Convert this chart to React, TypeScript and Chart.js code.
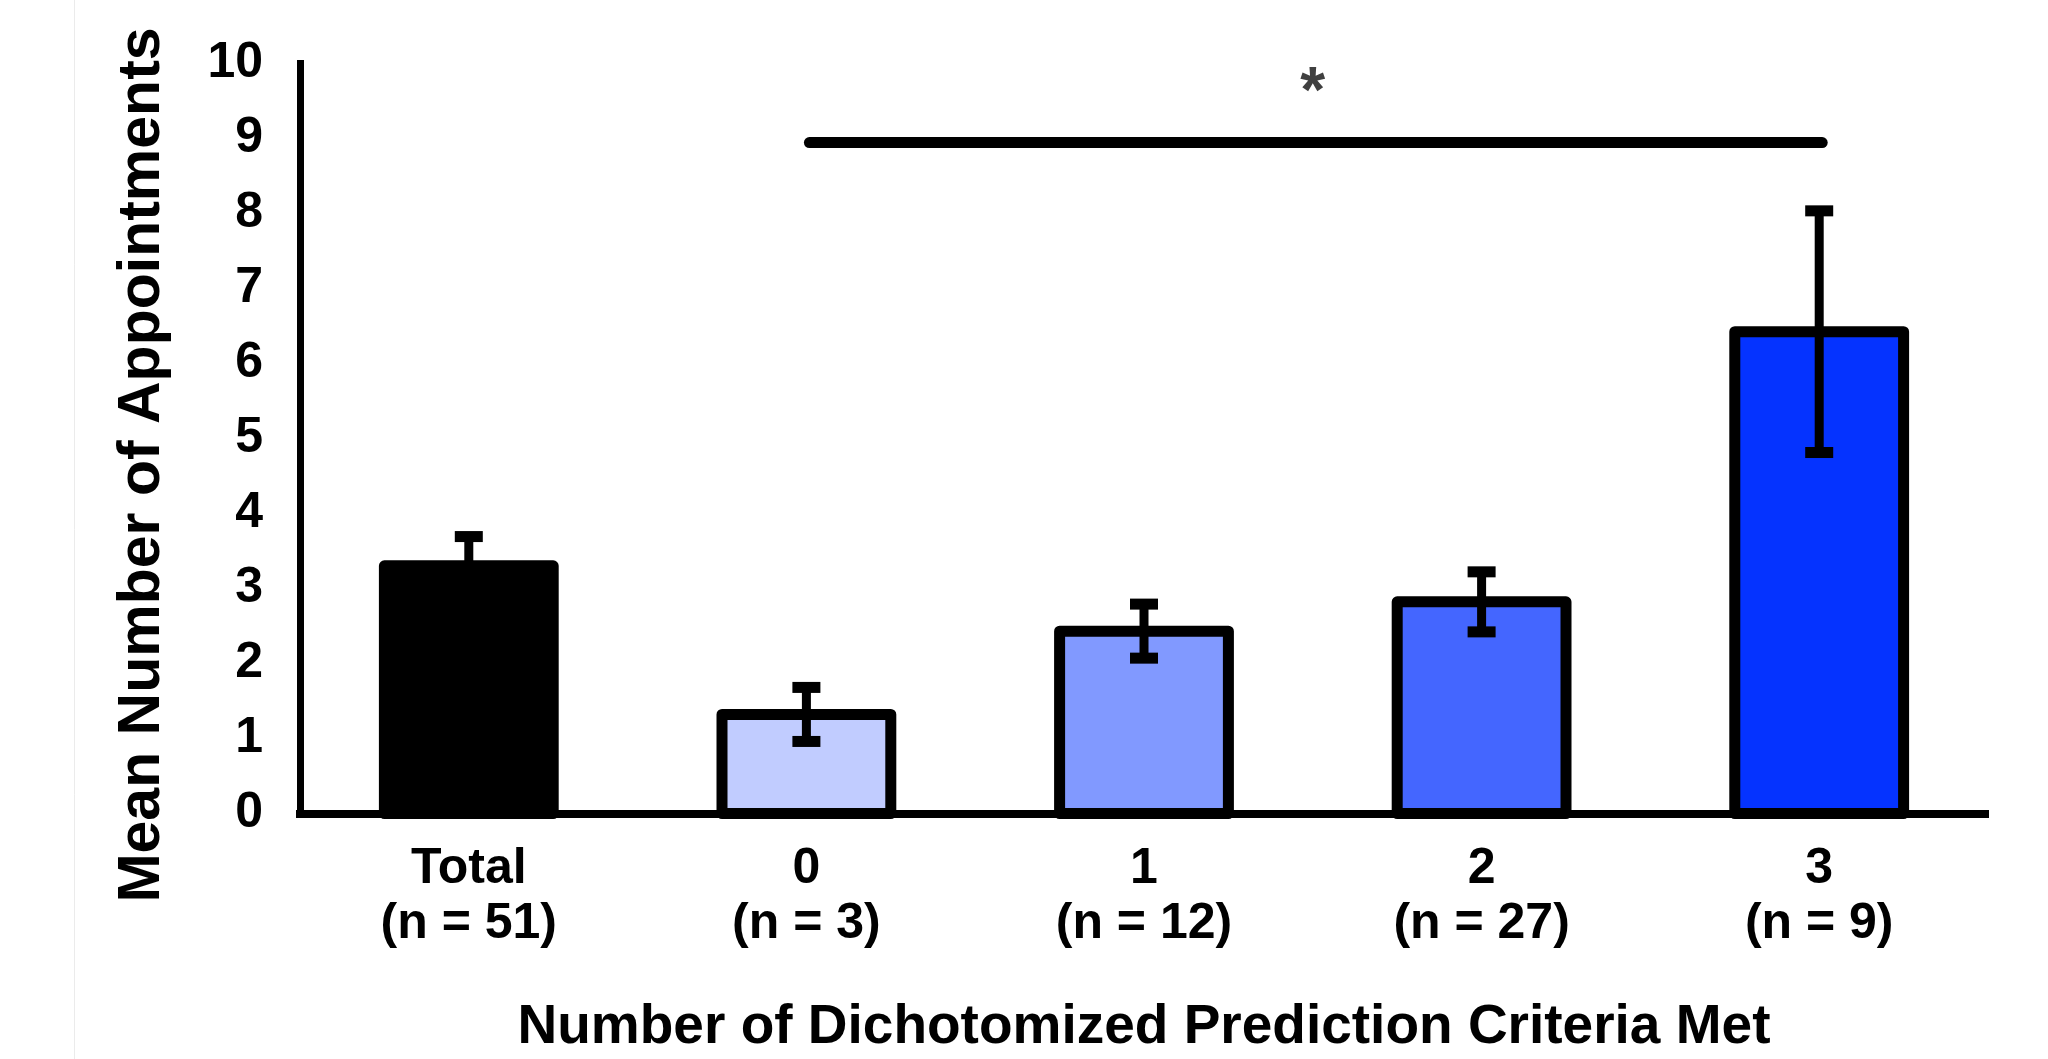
import React, { useEffect, useRef } from "react";
import { Chart, registerables } from "chart.js";

Chart.register(...registerables);

// ---- data ----
const categoryTop = ["Total", "0", "1", "2", "3"];
const categoryN = ["(n = 51)", "(n = 3)", "(n = 12)", "(n = 27)", "(n = 9)"];
const means = [3.3, 1.32, 2.43, 2.82, 6.42];
const sems = [0.39, 0.36, 0.36, 0.4, 1.61];
const barColors = ["#000000", "#C1CCFF", "#8199FF", "#4466FF", "#0533FF"];
const yMin = 0;
const yMax = 10;
const yStep = 1;
const yAxisTitle = "Mean Number of Appointments";
const xAxisTitle = "Number of Dichotomized Prediction Criteria Met";
const sigFromIndex = 1;
const sigToIndex = 4;
const sigLineValue = 8.94;
const sigLabel = "*";
const sigLabelValue = 9.78;

const FONT = "'Liberation Sans', Arial, Helvetica, sans-serif";

const decorPlugin = {
  id: "decor",
  beforeDraw(chart: any) {
    const ctx = chart.ctx;
    ctx.save();
    ctx.fillStyle = "#ffffff";
    ctx.fillRect(0, 0, chart.width, chart.height);
    ctx.strokeStyle = "#ebebeb";
    ctx.lineWidth = 1;
    ctx.beginPath();
    ctx.moveTo(74.5, 0);
    ctx.lineTo(74.5, chart.height);
    ctx.stroke();
    ctx.restore();
  },
  afterDatasetsDraw(chart: any) {
    const ctx = chart.ctx;
    const yScale = chart.scales.y;
    const meta = chart.getDatasetMeta(0);
    ctx.save();
    meta.data.forEach((bar: any) => {
      const p = bar.getProps(["x", "y", "base", "width"], true);
      ctx.lineWidth = 11;
      ctx.strokeStyle = "#000000";
      ctx.lineJoin = "round";
      ctx.strokeRect(p.x - p.width / 2, p.y, p.width, p.base - p.y);
    });
    meta.data.forEach((bar: any, i: number) => {
      const p = bar.getProps(["x"], true);
      const hi = yScale.getPixelForValue(means[i] + sems[i]);
      const lo = yScale.getPixelForValue(means[i] - sems[i]);
      ctx.fillStyle = "#000000";
      ctx.fillRect(p.x - 4.5, hi, 9, lo - hi);
      ctx.fillRect(p.x - 14, hi - 5.5, 28, 11);
      ctx.fillRect(p.x - 14, lo - 5.5, 28, 11);
    });
    // significance bracket
    const x1 = meta.data[sigFromIndex].x;
    const x2 = meta.data[sigToIndex].x;
    const yl = yScale.getPixelForValue(sigLineValue);
    ctx.strokeStyle = "#000000";
    ctx.lineWidth = 11;
    ctx.lineCap = "round";
    ctx.beginPath();
    ctx.moveTo(x1 + 3, yl);
    ctx.lineTo(x2 + 3, yl);
    ctx.stroke();
    ctx.font = `bold 64px ${FONT}`;
    ctx.fillStyle = "#404040";
    ctx.textAlign = "center";
    ctx.textBaseline = "alphabetic";
    const m = ctx.measureText(sigLabel);
    const ys = yScale.getPixelForValue(sigLabelValue);
    const off = (m.actualBoundingBoxAscent - m.actualBoundingBoxDescent) / 2;
    ctx.fillText(sigLabel, (x1 + x2) / 2, ys + off);
    ctx.restore();
  },
  afterDraw(chart: any) {
    const ctx = chart.ctx;
    const area = chart.chartArea;
    ctx.save();
    ctx.fillStyle = "#000000";
    ctx.textAlign = "center";
    ctx.textBaseline = "alphabetic";
    ctx.font = `bold 55px ${FONT}`;
    ctx.fillText(xAxisTitle, (area.left + area.right) / 2, 1043);
    ctx.translate(159, 465);
    ctx.rotate(-Math.PI / 2);
    ctx.font = `bold 59px ${FONT}`;
    ctx.fillText(yAxisTitle, 0, 0);
    ctx.restore();
  },
};

export default function App() {
  const canvasRef = useRef<HTMLCanvasElement | null>(null);

  useEffect(() => {
    const canvas = canvasRef.current;
    if (!canvas) return;
    const labels = categoryTop.map((t, i) => [t, categoryN[i]]);
    const chart = new Chart(canvas, {
      type: "bar",
      data: {
        labels,
        datasets: [
          {
            data: means,
            backgroundColor: barColors,
            borderWidth: 0,
            barPercentage: 1,
            categoryPercentage: 0.5,
          },
        ],
      },
      options: {
        responsive: false,
        animation: false,
        devicePixelRatio: 1,
        layout: { padding: { top: 63, right: 60, left: 0, bottom: 0 } },
        plugins: {
          legend: { display: false },
          tooltip: { enabled: false },
          title: { display: false },
        },
        scales: {
          x: {
            grid: { display: false, drawTicks: false },
            border: { display: true, color: "#000000", width: 8 },
            ticks: {
              color: "#000000",
              padding: 28,
              font: { family: FONT, size: 50, weight: "bold", lineHeight: 1.1 },
              maxRotation: 0,
              autoSkip: false,
            },
            afterFit: (scale: any) => {
              scale.height = 1059 - 813.5;
              scale.paddingLeft = 0;
              scale.paddingRight = 0;
            },
          },
          y: {
            min: yMin,
            max: yMax,
            grid: { display: false, drawTicks: false },
            border: { display: true, color: "#000000", width: 7 },
            ticks: {
              stepSize: yStep,
              color: "#000000",
              padding: 37,
              font: { family: FONT, size: 50, weight: "bold", lineHeight: 1.0 },
            },
            afterFit: (scale: any) => {
              scale.width = 300;
              scale.paddingTop = 0;
              scale.paddingBottom = 0;
            },
          },
        },
      },
      plugins: [decorPlugin],
    });
    return () => chart.destroy();
  }, []);

  return (
    <div
      style={{
        position: "fixed",
        left: 0,
        top: 0,
        width: 2048,
        height: 1059,
        background: "#ffffff",
      }}
    >
      <canvas ref={canvasRef} width={2048} height={1059} style={{ width: 2048, height: 1059, display: "block" }} />
    </div>
  );
}
